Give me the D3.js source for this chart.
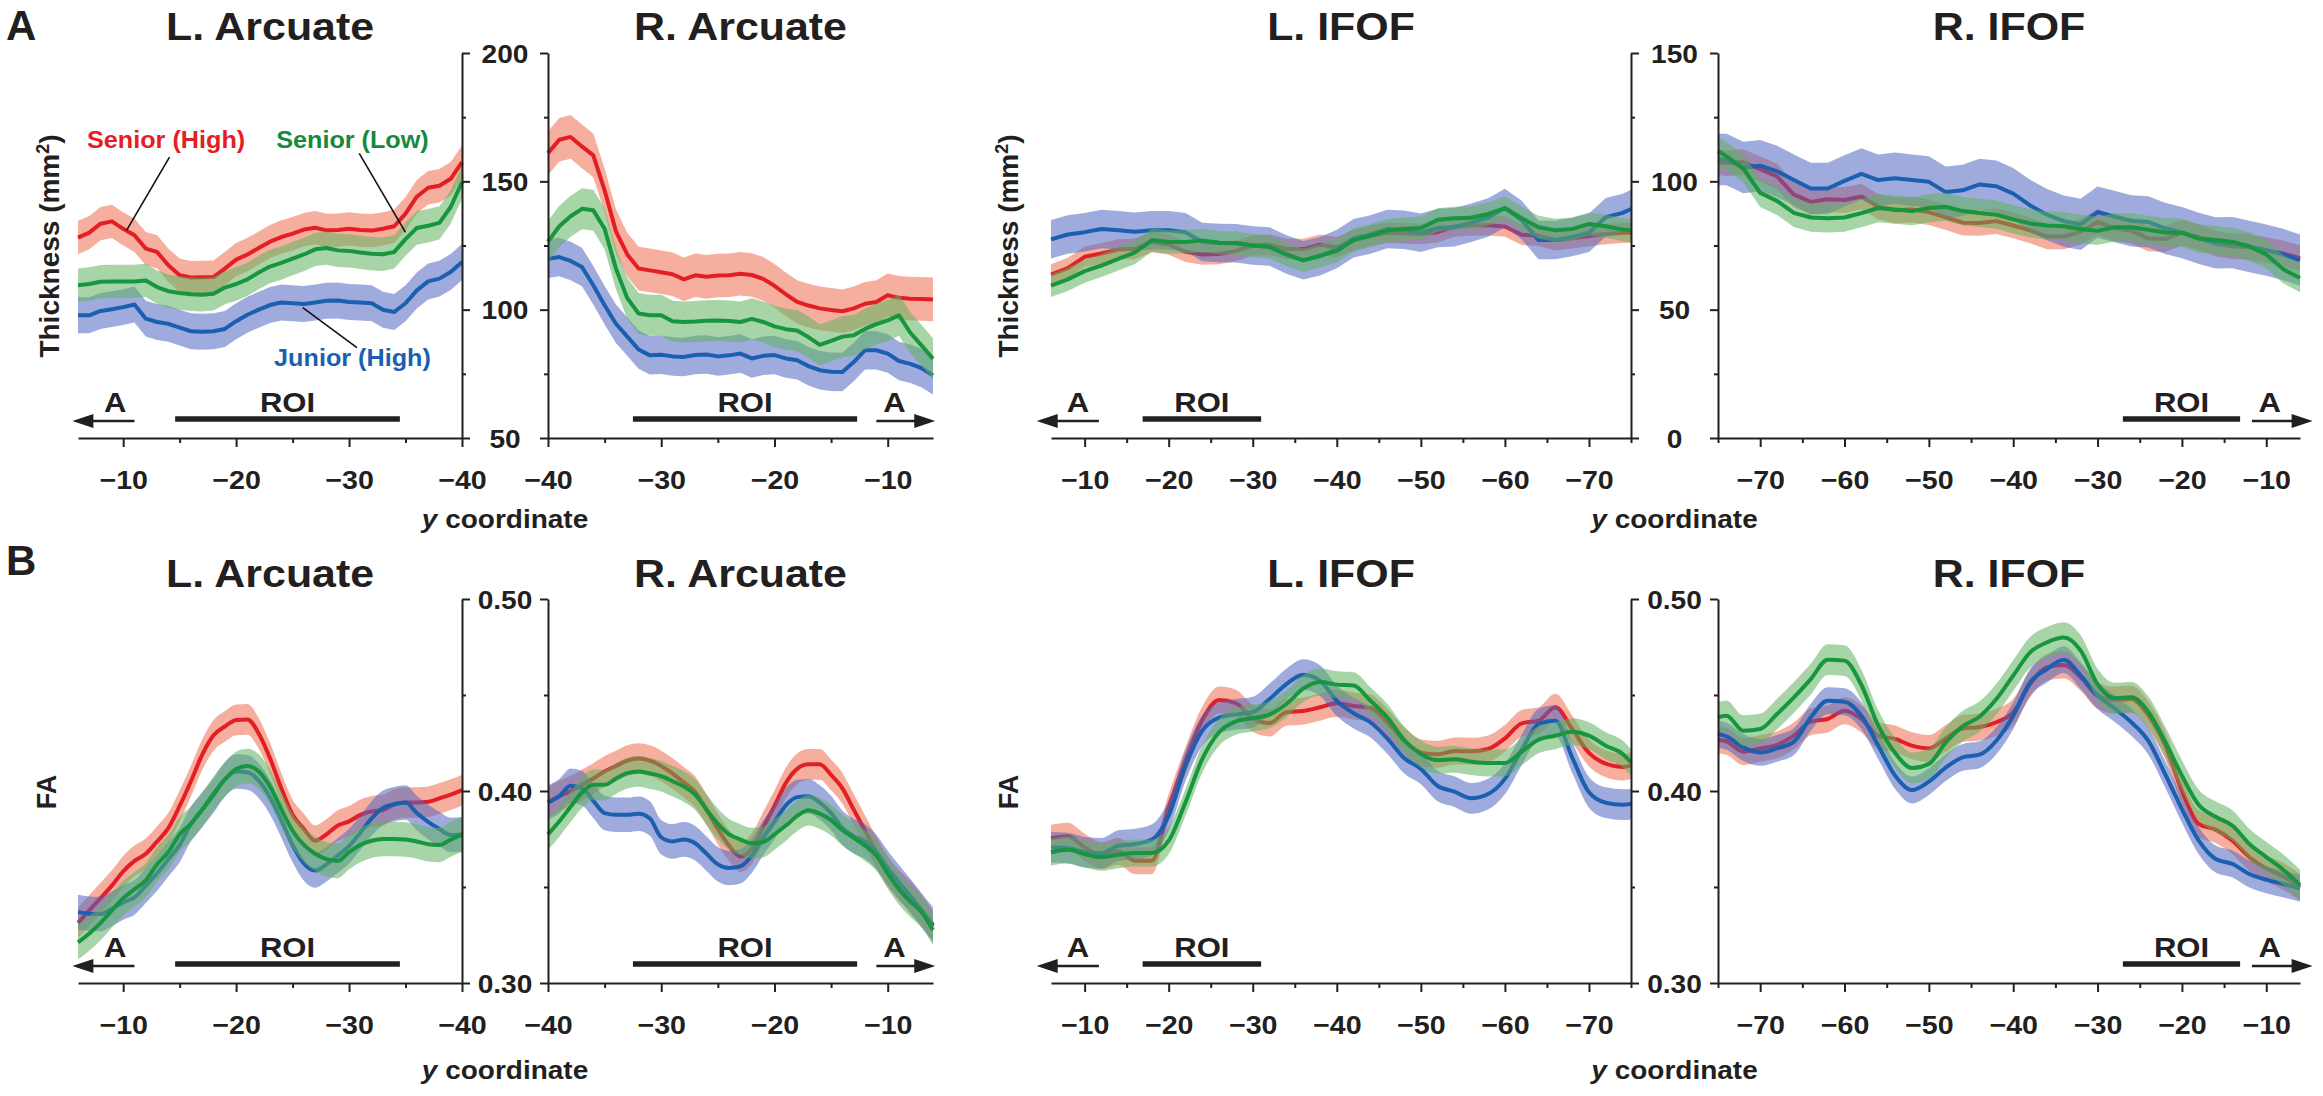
<!DOCTYPE html>
<html><head><meta charset="utf-8">
<script src="https://cdn.jsdelivr.net/npm/d3@7"></script>
<style>
body{margin:0;background:#fff}
svg{display:block}
text{font-family:"Liberation Sans",Arial,Helvetica,sans-serif;font-weight:bold}
</style></head>
<body><svg id="c" width="2323" height="1096"></svg>
<script>
// ---------------- DATA ----------------
const xArcL = [-6,-7,-8,-9,-10,-11,-12,-13,-14,-15,-16,-17,-18,-19,-20,-21,-22,-23,-24,-25,-26,-27,-28,-29,-30,-31,-32,-33,-34,-35,-36,-37,-38,-39,-40];
const xArcR = [-40,-39,-38,-37,-36,-35,-34,-33,-32,-31,-30,-29,-28,-27,-26,-25,-24,-23,-22,-21,-20,-19,-18,-17,-16,-15,-14,-13,-12,-11,-10,-9,-8,-7,-6];
const xIfofL = [-6,-8,-10,-12,-14,-16,-18,-20,-22,-24,-26,-28,-30,-32,-34,-36,-38,-40,-42,-44,-46,-48,-50,-52,-54,-56,-58,-60,-62,-64,-66,-68,-70,-72,-74,-75];
const xIfofR = [-75,-74,-72,-70,-68,-66,-64,-62,-60,-58,-56,-54,-52,-50,-48,-46,-44,-42,-40,-38,-36,-34,-32,-30,-28,-26,-24,-22,-20,-18,-16,-14,-12,-10,-8,-6];

// Thickness (mm2)
const thLArcRed   = [128.1,130.0,133.5,134.4,131.5,129.0,123.8,122.5,117.3,113.4,112.5,112.6,112.7,116.0,119.5,121.5,124.0,126.5,128.3,129.6,131.2,131.9,130.9,131.0,131.5,131.0,130.8,131.5,132.5,137.4,144.0,147.5,148.3,151.0,157.5];
const thLArcGreen = [109.5,110.0,110.9,111.0,111.0,111.0,111.4,108.8,107.2,106.5,106.0,105.8,106.2,108.6,110.0,111.8,114.5,116.8,118.2,119.9,121.5,123.5,124.0,123.1,122.9,122.3,121.8,121.6,122.5,127.5,131.8,132.7,133.8,140.0,149.7];
const thLArcBlue  = [97.8,97.8,99.5,100.2,101.0,102.0,96.5,95.2,94.5,93.0,91.6,91.4,91.6,92.5,95.5,98.0,100.0,101.8,102.8,102.5,102.2,102.8,103.5,103.6,103.0,102.8,102.5,100.0,99.1,102.5,107.5,111.0,112.1,114.7,118.6];
const thRArcRed   = [161.0,166.2,167.3,163.6,160.1,146.5,130.5,121.5,116.0,115.3,114.6,113.8,111.8,113.4,112.8,113.3,113.4,114.0,113.5,112.0,109.3,106.0,103.0,101.6,100.5,99.9,99.4,100.5,102.3,103.0,105.6,104.6,104.3,104.2,104.0];
const thRArcGreen = [126.5,132.5,136.4,139.3,138.7,131.5,116.0,104.5,98.5,97.8,97.8,95.5,95.2,95.4,95.7,95.8,95.6,95.2,96.4,95.2,93.5,92.4,91.9,89.3,86.3,87.8,89.5,90.0,92.5,94.4,95.8,97.8,91.0,86.0,80.9];
const thRArcBlue  = [119.8,120.5,119.0,116.6,109.5,101.7,94.5,89.5,84.5,82.2,82.4,81.8,81.6,82.3,82.5,81.8,82.2,82.9,81.0,82.0,82.3,81.0,80.3,78.0,76.4,75.8,75.7,79.6,84.2,84.2,82.9,80.0,78.9,77.2,74.4];
const thLIfofRed   = [63.7,66.2,70.6,71.9,73.4,73.7,76.4,75.4,72.6,71.5,71.7,72.9,75.0,75.3,73.6,73.6,75.3,74.3,77.1,78.8,80.0,79.8,79.5,80.2,82.4,82.9,82.9,82.4,79.2,78.8,77.1,77.8,78.7,79.5,80.0,80.0];
const thLIfofGreen = [59.4,61.8,65.0,67.2,69.8,72.3,77.1,76.4,76.4,77.0,76.1,76.0,75.0,74.4,71.5,69.2,71.0,72.9,77.1,78.8,80.8,81.4,81.8,85.0,85.6,85.8,87.3,89.6,85.6,82.1,80.9,81.4,83.4,82.5,81.2,80.9];
const thLIfofBlue  = [77.4,79.3,80.2,81.4,80.9,80.4,80.9,80.9,80.2,76.4,76.0,75.9,75.0,74.6,71.5,69.3,70.8,73.6,77.8,79.3,81.4,81.1,80.0,81.8,82.1,83.9,85.9,89.6,84.9,77.1,77.1,78.3,80.0,86.0,87.7,89.2];
const thRIfofRed   = [107.5,107.1,107.5,104.7,101.9,94.8,92.0,93.0,92.7,94.1,90.1,88.7,89.0,88.0,86.0,83.9,83.8,84.5,82.8,80.9,78.5,78.5,80.4,84.2,81.8,80.7,77.8,77.5,80.0,78.3,75.7,74.7,74.4,73.2,71.9,70.1];
const thRIfofGreen = [111.8,109.7,105.0,95.5,92.4,87.7,85.9,85.6,85.9,87.6,89.6,89.0,88.4,89.6,90.1,88.4,87.7,87.0,85.2,83.6,82.8,82.5,81.4,80.7,82.1,82.1,81.1,80.1,80.0,77.7,77.1,76.4,74.6,71.5,65.8,62.3];
const thRIfofBlue  = [108.5,108.5,105.4,106.1,103.9,100.5,97.2,97.2,100.2,102.9,100.5,101.2,100.5,99.8,95.8,96.5,98.8,98.1,95.2,90.6,87.0,84.5,83.2,88.0,86.3,84.6,84.2,81.7,80.0,77.8,76.0,76.1,74.6,73.2,71.5,69.3];

// FA
const faLArcRed   = [0.3313,0.3378,0.3442,0.3507,0.3581,0.3636,0.3673,0.3737,0.3807,0.3922,0.4051,0.4189,0.4290,0.4336,0.4370,0.4373,0.4300,0.4171,0.4014,0.3876,0.3802,0.3741,0.3774,0.3820,0.3842,0.3876,0.3894,0.3900,0.3931,0.3940,0.3940,0.3944,0.3962,0.3981,0.4005];
const faLArcGreen = [0.3212,0.3258,0.3313,0.3378,0.3442,0.3488,0.3535,0.3618,0.3682,0.3774,0.3829,0.3903,0.3986,0.4060,0.4115,0.4130,0.4102,0.4023,0.3903,0.3793,0.3719,0.3673,0.3645,0.3636,0.3682,0.3719,0.3741,0.3750,0.3750,0.3747,0.3737,0.3723,0.3719,0.3747,0.3774];
const faLArcBlue  = [0.3369,0.3361,0.3359,0.3387,0.3420,0.3446,0.3507,0.3571,0.3645,0.3719,0.3829,0.3903,0.3977,0.4060,0.4102,0.4097,0.4054,0.3968,0.3848,0.3719,0.3623,0.3586,0.3618,0.3664,0.3713,0.3783,0.3857,0.3912,0.3931,0.3940,0.3885,0.3839,0.3802,0.3771,0.3774];
const faRArcRed   = [0.3940,0.3973,0.3999,0.4032,0.4065,0.4102,0.4130,0.4158,0.4169,0.4158,0.4130,0.4091,0.4045,0.3995,0.3903,0.3802,0.3715,0.3658,0.3700,0.3811,0.3922,0.4041,0.4115,0.4139,0.4139,0.4084,0.4014,0.3903,0.3793,0.3682,0.3581,0.3507,0.3452,0.3378,0.3295];
const faRArcGreen = [0.3774,0.3842,0.3918,0.3992,0.4032,0.4032,0.4065,0.4093,0.4102,0.4091,0.4078,0.4051,0.4023,0.3981,0.3903,0.3829,0.3774,0.3747,0.3728,0.3734,0.3774,0.3820,0.3870,0.3900,0.3882,0.3848,0.3796,0.3756,0.3715,0.3664,0.3571,0.3488,0.3424,0.3369,0.3276];
const faRArcBlue  = [0.3940,0.3973,0.4027,0.4014,0.3949,0.3885,0.3876,0.3876,0.3882,0.3857,0.3759,0.3737,0.3748,0.3728,0.3673,0.3618,0.3599,0.3608,0.3664,0.3756,0.3839,0.3925,0.3968,0.3973,0.3940,0.3885,0.3807,0.3765,0.3737,0.3682,0.3599,0.3525,0.3452,0.3378,0.3304];
const faLIfofRed   = [0.3753,0.3764,0.3707,0.3663,0.3686,0.3637,0.3637,0.3915,0.4158,0.4370,0.4474,0.4457,0.4378,0.4354,0.4410,0.4417,0.4436,0.4457,0.4443,0.4432,0.4358,0.4262,0.4200,0.4191,0.4208,0.4207,0.4219,0.4274,0.4352,0.4366,0.4436,0.4323,0.4198,0.4142,0.4125,0.4132];
const faLIfofGreen = [0.3681,0.3694,0.3672,0.3655,0.3668,0.3677,0.3677,0.3741,0.3941,0.4167,0.4306,0.4363,0.4380,0.4398,0.4453,0.4533,0.4568,0.4554,0.4549,0.4470,0.4384,0.4267,0.4193,0.4161,0.4165,0.4153,0.4146,0.4146,0.4205,0.4267,0.4288,0.4309,0.4288,0.4236,0.4193,0.4149];
const faLIfofBlue  = [0.3707,0.3703,0.3681,0.3675,0.3715,0.3724,0.3747,0.3872,0.4132,0.4314,0.4382,0.4399,0.4411,0.4479,0.4557,0.4606,0.4575,0.4470,0.4405,0.4358,0.4274,0.4172,0.4115,0.4026,0.3997,0.3962,0.3984,0.4063,0.4214,0.4349,0.4366,0.4175,0.3993,0.3939,0.3929,0.3932];
const faRIfofRed   = [0.4267,0.4259,0.4205,0.4222,0.4240,0.4288,0.4361,0.4375,0.4418,0.4375,0.4288,0.4271,0.4236,0.4222,0.4274,0.4326,0.4333,0.4358,0.4410,0.4557,0.4644,0.4656,0.4592,0.4497,0.4474,0.4479,0.4396,0.4240,0.4002,0.3828,0.3799,0.3741,0.3655,0.3597,0.3556,0.3498];
const faRIfofGreen = [0.4384,0.4392,0.4314,0.4323,0.4401,0.4488,0.4583,0.4684,0.4679,0.4552,0.4340,0.4198,0.4120,0.4141,0.4253,0.4337,0.4387,0.4479,0.4601,0.4722,0.4774,0.4799,0.4731,0.4557,0.4484,0.4488,0.4413,0.4257,0.4080,0.3927,0.3866,0.3819,0.3724,0.3656,0.3590,0.3510];
const faRIfofBlue  = [0.4297,0.4285,0.4227,0.4201,0.4222,0.4257,0.4384,0.4470,0.4465,0.4392,0.4236,0.4080,0.4005,0.4049,0.4122,0.4175,0.4189,0.4262,0.4392,0.4566,0.4635,0.4684,0.4601,0.4497,0.4431,0.4358,0.4262,0.4089,0.3906,0.3741,0.3646,0.3620,0.3568,0.3538,0.3516,0.3493];

// standard-error half widths [red, green, blue]
const errThLArc = [6.5, 6.5, 7];
const errThRArc = [8.5, 8, 7.5];
const errThLIfof = [4, 4.5, 7.5];
const errThRIfof = [5, 5.5, 10];
const errFaLArc = [0.008, 0.009, 0.009];
const errFaRArc = [0.008, 0.008, 0.009];
const errFaLIfof = [0.007, 0.007, 0.008];
const errFaRIfof = [0.007, 0.008, 0.007];

// ticks
const xTicksArc = [-10,-20,-30,-40];
const xMinorArc = [-15,-25,-35];
const xTicksIfof = [-10,-20,-30,-40,-50,-60,-70];
const xMinorIfof = [-15,-25,-35,-45,-55,-65,-75];
const yTicksThArc = [50,100,150,200];
const yMinorThArc = [75,125,175];
const yTicksThIfof = [0,50,100,150];
const yMinorThIfof = [25,75,125];
const yTicksFa = [0.30,0.40,0.50];
const yMinorFa = [0.35,0.45];

// annotations (y coordinate units): ROI bar, anterior arrow [start, tip], "A" label
const roiLArc = [-14.6, -34.5], arrowLArc = [-11.0, -5.5], aLabLArc = -9.3;
const roiRArc = [-32.5, -12.7], arrowRArc = [-11.0, -5.8], aLabRArc = -9.4;
const roiLIfof = [-16.9, -31.0], arrowLIfof = [-11.7, -4.3], aLabLIfof = -9.2;
const roiRIfof = [-27.0, -13.1], arrowRIfof = [-11.7, -4.5], aLabRIfof = -9.6;

// legend (top-left panel): label positions and leader lines in data units
const legendNames = ["Senior (High)", "Senior (Low)", "Junior (High)"];
const legendKeys = ["red", "green", "blue"];
const legendPos = [[-13.8, 163.0], [-30.3, 163.0], [-30.3, 78.0]];
const leaderLines = [[-14.1, 159.4, -10.3, 130.9], [-30.9, 160.9, -35.0, 130.1], [-25.9, 100.8, -30.7, 85.2]];

// ---------------- DRAW ----------------
const svg = d3.select("#c");
const INK = "#231f20";
const COL = {
  red:   {line:"#e31e24", band:"#ee6e4e", text:"#e31e24"},
  green: {line:"#17963f", band:"#5fb25f", text:"#148a3c"},
  blue:  {line:"#1b5fb0", band:"#5066c0", text:"#1b5fb0"}
};
const drawOrder = ["red","blue","green"];
const keyIdx = {red:0, green:1, blue:2};

const rows = [{top:53, bot:438}, {top:599, bot:983}];
const cols = {
  LA:{range:[78,462], side:"right"},
  RA:{range:[548,933], side:"left"},
  LI:{range:[1051,1631], side:"right"},
  RI:{range:[1718,2300], side:"left"}
};

function sText(g, str, x, y, size, sx, anchor, color){
  return g.append("text").text(str)
    .attr("transform", `translate(${x},${y}) scale(${sx},1)`)
    .attr("text-anchor", anchor || "middle")
    .attr("font-size", size).attr("fill", color || INK);
}

const panels = [
  {row:0,col:"LA",title:"L. Arcuate",xs:xArcL,dom:[-6,-40],ydom:[50,200],ser:{red:thLArcRed,green:thLArcGreen,blue:thLArcBlue},err:errThLArc,xt:xTicksArc,xm:xMinorArc,yt:yTicksThArc,ym:yMinorThArc,roi:roiLArc,arr:arrowLArc,al:aLabLArc,curve:d3.curveLinear},
  {row:0,col:"RA",title:"R. Arcuate",xs:xArcR,dom:[-40,-6],ydom:[50,200],ser:{red:thRArcRed,green:thRArcGreen,blue:thRArcBlue},err:errThRArc,xt:xTicksArc,xm:xMinorArc,yt:yTicksThArc,ym:yMinorThArc,roi:roiRArc,arr:arrowRArc,al:aLabRArc,curve:d3.curveLinear},
  {row:0,col:"LI",title:"L. IFOF",xs:xIfofL,dom:[-6,-75],ydom:[0,150],ser:{red:thLIfofRed,green:thLIfofGreen,blue:thLIfofBlue},err:errThLIfof,xt:xTicksIfof,xm:xMinorIfof,yt:yTicksThIfof,ym:yMinorThIfof,roi:roiLIfof,arr:arrowLIfof,al:aLabLIfof,curve:d3.curveLinear},
  {row:0,col:"RI",title:"R. IFOF",xs:xIfofR,dom:[-75,-6],ydom:[0,150],ser:{red:thRIfofRed,green:thRIfofGreen,blue:thRIfofBlue},err:errThRIfof,xt:xTicksIfof,xm:xMinorIfof,yt:yTicksThIfof,ym:yMinorThIfof,roi:roiRIfof,arr:arrowRIfof,al:aLabRIfof,curve:d3.curveLinear},
  {row:1,col:"LA",title:"L. Arcuate",xs:xArcL,dom:[-6,-40],ydom:[0.3,0.5],ser:{red:faLArcRed,green:faLArcGreen,blue:faLArcBlue},err:errFaLArc,xt:xTicksArc,xm:xMinorArc,yt:yTicksFa,ym:yMinorFa,roi:roiLArc,arr:arrowLArc,al:aLabLArc,curve:d3.curveMonotoneX},
  {row:1,col:"RA",title:"R. Arcuate",xs:xArcR,dom:[-40,-6],ydom:[0.3,0.5],ser:{red:faRArcRed,green:faRArcGreen,blue:faRArcBlue},err:errFaRArc,xt:xTicksArc,xm:xMinorArc,yt:yTicksFa,ym:yMinorFa,roi:roiRArc,arr:arrowRArc,al:aLabRArc,curve:d3.curveMonotoneX},
  {row:1,col:"LI",title:"L. IFOF",xs:xIfofL,dom:[-6,-75],ydom:[0.3,0.5],ser:{red:faLIfofRed,green:faLIfofGreen,blue:faLIfofBlue},err:errFaLIfof,xt:xTicksIfof,xm:xMinorIfof,yt:yTicksFa,ym:yMinorFa,roi:roiLIfof,arr:arrowLIfof,al:aLabLIfof,curve:d3.curveMonotoneX},
  {row:1,col:"RI",title:"R. IFOF",xs:xIfofR,dom:[-75,-6],ydom:[0.3,0.5],ser:{red:faRIfofRed,green:faRIfofGreen,blue:faRIfofBlue},err:errFaRIfof,xt:xTicksIfof,xm:xMinorIfof,yt:yTicksFa,ym:yMinorFa,roi:roiRIfof,arr:arrowRIfof,al:aLabRIfof,curve:d3.curveMonotoneX}
];

function styleAxis(g){
  g.attr("font-size", null).attr("font-family", null);
  g.selectAll("path,line").attr("stroke", INK).attr("stroke-width", 2);
}

const scales = {};
panels.forEach(p => {
  const R = rows[p.row], C = cols[p.col];
  const x = d3.scaleLinear().domain(p.dom).range(C.range);
  const y = d3.scaleLinear().domain(p.ydom).range([R.bot, R.top]);
  scales[p.row + p.col] = {x, y, p};
  const g = svg.append("g");

  // series: band + line
  drawOrder.forEach(k => {
    const vals = p.ser[k], e = p.err[keyIdx[k]];
    const data = p.xs.map((xv, i) => ({x: xv, v: vals[i]}));
    const area = d3.area().curve(p.curve).x(d => x(d.x)).y0(d => y(d.v - e)).y1(d => y(d.v + e));
    const line = d3.line().curve(p.curve).x(d => x(d.x)).y(d => y(d.v));
    g.append("path").datum(data).attr("d", area).attr("fill", COL[k].band).attr("fill-opacity", 0.55);
    g.append("path").datum(data).attr("d", line).attr("fill", "none").attr("stroke", COL[k].line)
      .attr("stroke-width", 4).attr("stroke-linejoin", "round");
  });

  // x axis
  const gx = g.append("g").attr("transform", `translate(0,${R.bot})`)
    .call(d3.axisBottom(x).tickValues(p.xt).tickSize(9).tickSizeOuter(0));
  styleAxis(gx);
  gx.selectAll("text").attr("y", null).attr("dy", null).attr("fill", INK)
    .attr("font-size", 26).attr("transform", "translate(0,51) scale(1.1,1)");
  const gxm = g.append("g").attr("transform", `translate(0,${R.bot})`)
    .call(d3.axisBottom(x).tickValues(p.xm).tickSize(5).tickFormat(""));
  gxm.select(".domain").remove();
  styleAxis(gxm);

  // y axis
  const ax = C.side === "right" ? d3.axisRight : d3.axisLeft;
  const ax0 = C.side === "right" ? C.range[1] : C.range[0];
  const gy = g.append("g").attr("transform", `translate(${ax0},0)`)
    .call(ax(y).tickValues(p.yt).tickSize(8).tickSizeOuter(0).tickFormat(""));
  styleAxis(gy);
  const gym = g.append("g").attr("transform", `translate(${ax0},0)`)
    .call(ax(y).tickValues(p.ym).tickSize(4).tickFormat(""));
  gym.select(".domain").remove();
  styleAxis(gym);

  // title
  sText(g, p.title, (C.range[0] + C.range[1]) / 2, p.row === 0 ? 40 : 587, 39, 1.1);

  // ROI bar
  g.append("line").attr("x1", x(p.roi[0])).attr("x2", x(p.roi[1]))
    .attr("y1", R.bot - 19).attr("y2", R.bot - 19).attr("stroke", INK).attr("stroke-width", 5.5);
  sText(g, "ROI", x((p.roi[0] + p.roi[1]) / 2), R.bot - 26, 27, 1.15);

  // anterior arrow
  const xs0 = x(p.arr[0]), xt = x(p.arr[1]);
  const dir = Math.sign(xt - xs0);
  const ay = R.bot - 17;
  g.append("line").attr("x1", xs0).attr("x2", xt - dir * 14).attr("y1", ay).attr("y2", ay)
    .attr("stroke", INK).attr("stroke-width", 2.5);
  g.append("path").attr("d", `M${xt},${ay} L${xt - dir * 21},${ay - 7} L${xt - dir * 21},${ay + 7} Z`).attr("fill", INK);
  sText(g, "A", x(p.al), R.bot - 26, 27, 1.15);
});

// shared y tick labels between paired panels
[["LA","RA"],["LI","RI"]].forEach(([l, r]) => {
  [0, 1].forEach(row => {
    const s = scales[row + r];
    const mx = (cols[l].range[1] + cols[r].range[0]) / 2;
    const fmt = row === 0 ? d3.format("d") : d3.format(".2f");
    s.p.yt.forEach(v => {
      sText(svg, fmt(v), mx, s.y(v) + 9.5, 26, 1.08);
    });
  });
  // x axis caption
  const mx = (cols[l].range[1] + cols[r].range[0]) / 2;
  [528, 1079].forEach(by => {
    const t = svg.append("text").attr("transform", `translate(${mx},${by}) scale(1.12,1)`)
      .attr("text-anchor", "middle").attr("font-size", 25).attr("fill", INK);
    t.append("tspan").attr("font-style", "italic").text("y");
    t.append("tspan").text(" coordinate");
  });
});

// y axis titles
function yTitle(cx, cy, size, build){
  const t = svg.append("text").attr("transform", `translate(${cx},${cy}) rotate(-90)`)
    .attr("text-anchor", "middle").attr("font-size", size).attr("fill", INK);
  build(t);
}
[59, 1018].forEach(cx => yTitle(cx, 246, 28, t => {
  t.append("tspan").text("Thickness (mm");
  t.append("tspan").attr("font-size", 18).attr("dy", -10).text("2");
  t.append("tspan").attr("dy", 10).text(")");
}));
[56, 1018].forEach(cx => yTitle(cx, 792, 27, t => t.text("FA")));

// panel letters
sText(svg, "A", 6, 40, 42, 1.0, "start");
sText(svg, "B", 6, 575, 42, 1.0, "start");

// legend in top-left panel
const sLA = scales["0LA"];
leaderLines.forEach(l => {
  svg.append("line").attr("x1", sLA.x(l[0])).attr("y1", sLA.y(l[1]))
    .attr("x2", sLA.x(l[2])).attr("y2", sLA.y(l[3])).attr("stroke", "#111").attr("stroke-width", 1.6);
});
legendNames.forEach((n, i) => {
  sText(svg, n, sLA.x(legendPos[i][0]), sLA.y(legendPos[i][1]), 24, 1.05, "middle", COL[legendKeys[i]].text);
});
</script></body></html>
